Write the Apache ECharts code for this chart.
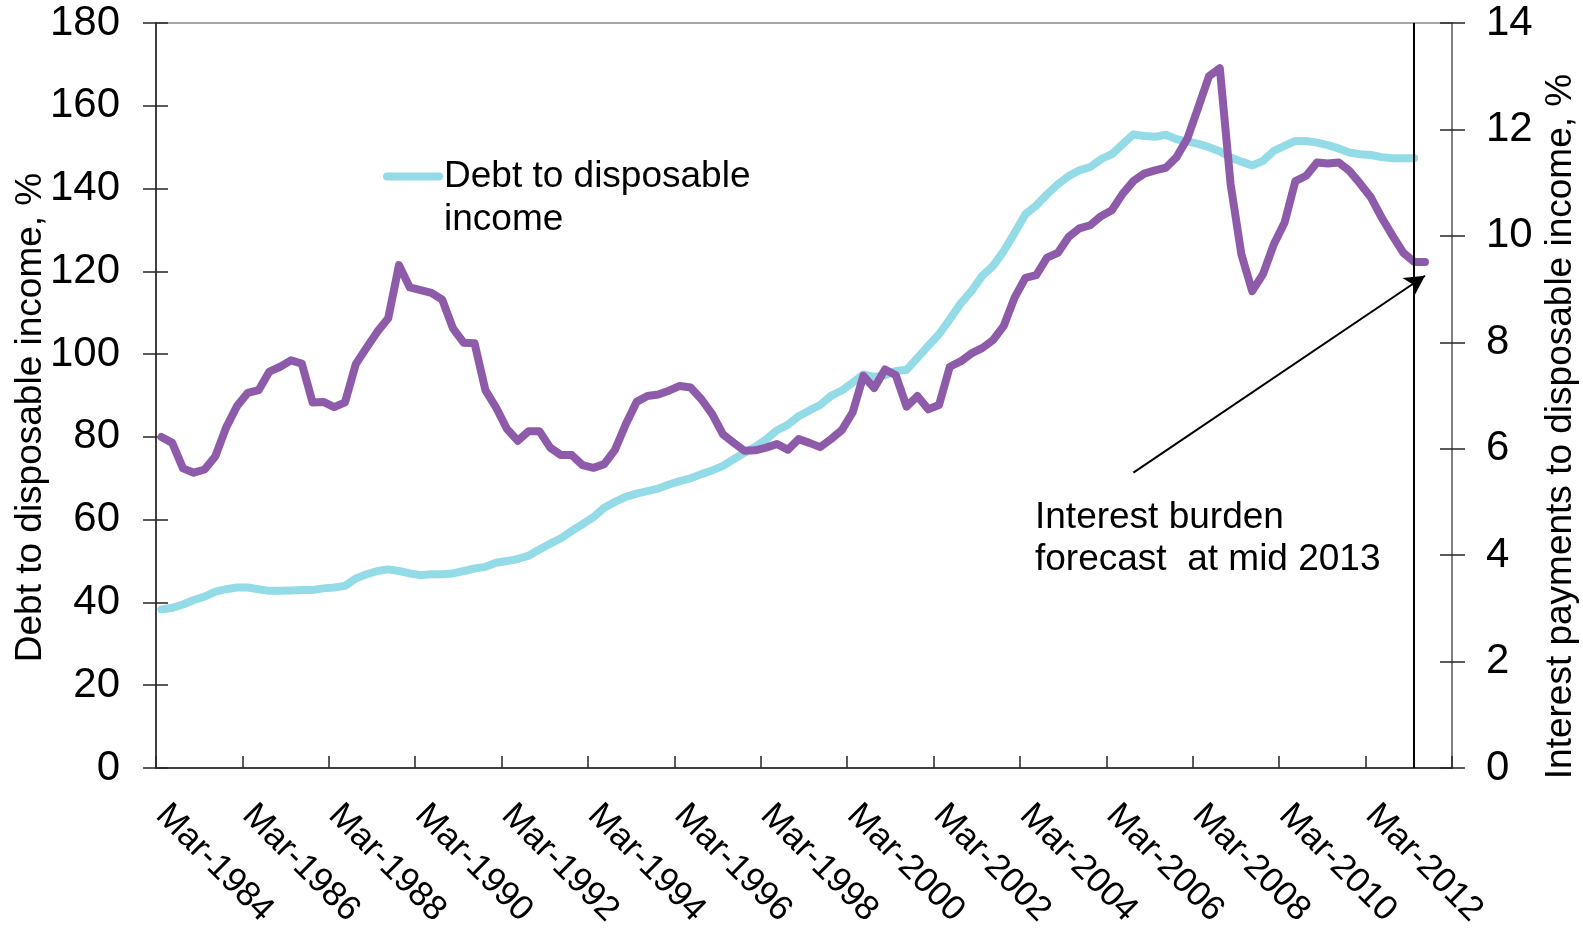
<!DOCTYPE html>
<html>
<head>
<meta charset="utf-8">
<script src="https://cdn.jsdelivr.net/npm/echarts@6/dist/echarts.min.js"></script>
<style>
  html, body { margin: 0; padding: 0; background: #fff; }
  #chart { width: 1583px; height: 930px; }
</style>
</head>
<body>
<div id="chart"></div>
<script>
const years = Array.from({ length: 30 }, (_, i) => 1984 + i)
const months = ['Mar', 'Jun', 'Sep', 'Dec']
const quarters = years.flatMap(y => months.map(m => `${m}-${y}`))

// Debt to disposable income, % (left axis), Mar-1984 .. Mar-2013
const debtToIncome = [
  38.3, 38.7, 39.5, 40.6, 41.4, 42.6, 43.2, 43.6, 43.6, 43.2,
  42.8, 42.8, 42.9, 43.0, 43.0, 43.4, 43.6, 44.0, 45.8, 46.8,
  47.6, 48.0, 47.6, 47.0, 46.6, 46.8, 46.8, 47.0, 47.6, 48.2,
  48.6, 49.6, 50.0, 50.5, 51.3, 52.8, 54.2, 55.5, 57.3, 58.9,
  60.6, 62.9, 64.3, 65.5, 66.3, 66.9, 67.5, 68.5, 69.3, 70.0,
  71.0, 71.9, 73.0, 74.6, 76.2, 77.6, 79.4, 81.6, 82.9, 85.0,
  86.4, 87.7, 89.9, 91.2, 93.1, 95.1, 94.5, 94.9, 95.9, 96.2,
  99.1, 102.0, 104.8, 108.4, 112.2, 115.2, 118.9, 121.3, 124.9, 129.3,
  133.8, 135.9, 138.6, 141.0, 143.0, 144.4, 145.2, 147.1, 148.3, 150.7,
  153.1, 152.7, 152.5, 153.0, 151.9, 151.4, 150.8, 150.0, 149.0, 147.5,
  146.5, 145.6, 146.7, 149.1, 150.3, 151.5, 151.5, 151.1, 150.5, 149.7,
  148.7, 148.3, 148.1, 147.6, 147.3, 147.3, 147.3
]

// Interest payments to disposable income, % (right axis), Mar-1984 .. Jun-2013
const interestToIncome = [
  6.22, 6.11, 5.63, 5.55, 5.61, 5.86, 6.40, 6.80, 7.05, 7.10,
  7.45, 7.54, 7.66, 7.60, 6.87, 6.88, 6.78, 6.87, 7.59, 7.90,
  8.20, 8.45, 9.45, 9.03, 8.98, 8.93, 8.80, 8.26, 7.99, 7.98,
  7.10, 6.77, 6.37, 6.15, 6.33, 6.33, 6.02, 5.88, 5.88, 5.69,
  5.64, 5.71, 5.98, 6.46, 6.88, 6.99, 7.02, 7.09, 7.18, 7.15,
  6.93, 6.65, 6.27, 6.11, 5.96, 5.97, 6.02, 6.09, 5.98, 6.18,
  6.11, 6.03, 6.18, 6.35, 6.68, 7.37, 7.14, 7.49, 7.38, 6.79,
  6.99, 6.74, 6.82, 7.54, 7.64, 7.79, 7.89, 8.04, 8.31, 8.84,
  9.21, 9.26, 9.59, 9.68, 9.98, 10.14, 10.20, 10.37, 10.48, 10.79,
  11.03, 11.17, 11.23, 11.28, 11.48, 11.83, 12.41, 13.00, 13.15, 10.97,
  9.65, 8.96, 9.28, 9.84, 10.25, 11.03, 11.13, 11.38, 11.36, 11.38,
  11.22, 10.98, 10.72, 10.34, 10.00, 9.68, 9.51, 9.51
]

const forecastAt = 'Mar-2013'
const arrowFrom = [90, 5.55]
const arrowTo = [117, 9.25]
const noteText = 'Interest burden\nforecast  at mid 2013'

const font = '"Liberation Sans", Arial, sans-serif'
const blue = '#93dbe6'
const purple = '#8e5bab'
const tickColor = '#262626'

// second copy of an axis, only to draw the inner half of the crossing ticks
const tickAxis = (extra) => ({
  axisLine: { show: false },
  axisLabel: { show: false },
  splitLine: { show: false },
  axisTick: { show: true, inside: true, length: 12, lineStyle: { color: tickColor, width: 1.5 } },
  ...extra,
})

const chart = echarts.init(document.getElementById('chart'))
chart.setOption({
  animation: false,
  grid: {
    left: 156, right: 131, top: 23, bottom: 162,
    containLabel: false, outerBoundsMode: 'none',
    show: true, borderColor: '#a6a6a6', borderWidth: 2,
  },
  legend: {
    data: ['Debt to disposable income'],
    left: 383, top: 112, padding: 0,
    selectedMode: false,
    itemWidth: 52, itemHeight: 12,
    formatter: () => ' \nDebt to disposable\nincome',
    itemStyle: { opacity: 0 },
    lineStyle: { width: 8, cap: 'round' },
    textStyle: { fontFamily: font, fontSize: 37, color: '#000', lineHeight: 43 },
  },
  xAxis: [
    {
      type: 'category',
      data: quarters,
      boundaryGap: true,
      axisLine: { lineStyle: { color: '#404040', width: 2 } },
      axisTick: { interval: 7, length: 11, lineStyle: { color: tickColor, width: 1.5 } },
      axisLabel: { interval: 7, rotate: -45, margin: 42, fontFamily: font, fontSize: 35, color: '#000' },
    },
    tickAxis({ type: 'category', data: quarters, boundaryGap: true, position: 'bottom',
      axisTick: { show: true, inside: true, interval: 7, length: 12, lineStyle: { color: tickColor, width: 1.5 } } }),
  ],
  yAxis: [
    {
      type: 'value', min: 0, max: 180, interval: 20, position: 'left',
      name: 'Debt to disposable income, %',
      nameLocation: 'middle', nameRotate: 90, nameGap: 107, nameMoveOverlap: false,
      nameTextStyle: { fontFamily: font, fontSize: 37, color: '#000', padding: [0, 44, 0, 0] },
      axisLine: { show: true, lineStyle: { color: '#404040', width: 2 } },
      axisTick: { show: true, length: 13, lineStyle: { color: tickColor, width: 1.5 } },
      axisLabel: { margin: 36, fontFamily: font, fontSize: 42, color: '#000' },
      splitLine: { show: false },
    },
    {
      type: 'value', min: 0, max: 14, interval: 2, position: 'right',
      name: 'Interest payments to disposable income, %',
      nameLocation: 'middle', nameRotate: 90, nameGap: 90, nameMoveOverlap: false,
      nameTextStyle: { fontFamily: font, fontSize: 37, color: '#000', padding: [0, 62, 0, 0] },
      axisLine: { show: true, lineStyle: { color: '#808080', width: 2 } },
      axisTick: { show: true, length: 13, lineStyle: { color: tickColor, width: 1.5 } },
      axisLabel: { margin: 34, fontFamily: font, fontSize: 42, color: '#000' },
      splitLine: { show: false },
    },
    tickAxis({ type: 'value', min: 0, max: 180, interval: 20, position: 'left' }),
    tickAxis({ type: 'value', min: 0, max: 14, interval: 2, position: 'right' }),
  ],
  graphic: [
    {
      type: 'text', left: 1035, top: 497, silent: true,
      style: { text: noteText, fontFamily: font, fontSize: 37, lineHeight: 42, fill: '#000' },
    },
  ],
  series: [
    {
      name: 'Debt to disposable income',
      type: 'line',
      yAxisIndex: 0,
      data: debtToIncome,
      symbol: 'none',
      lineStyle: { color: blue, width: 8, cap: 'round', join: 'round' },
      itemStyle: { color: blue },
    },
    {
      name: 'Interest payments to disposable income',
      type: 'line',
      yAxisIndex: 1,
      data: interestToIncome,
      symbol: 'none',
      lineStyle: { color: purple, width: 8, cap: 'round', join: 'round' },
      itemStyle: { color: purple },
      markLine: {
        silent: true,
        symbol: ['none', 'none'],
        label: { show: false },
        lineStyle: { color: '#000', width: 2, type: 'solid' },
        data: [
          { xAxis: forecastAt },
          [
            { coord: arrowFrom },
            { coord: arrowTo, symbol: 'arrow', symbolSize: [16, 20] },
          ],
        ],
      },
    },
  ],
})
</script>
</body>
</html>
